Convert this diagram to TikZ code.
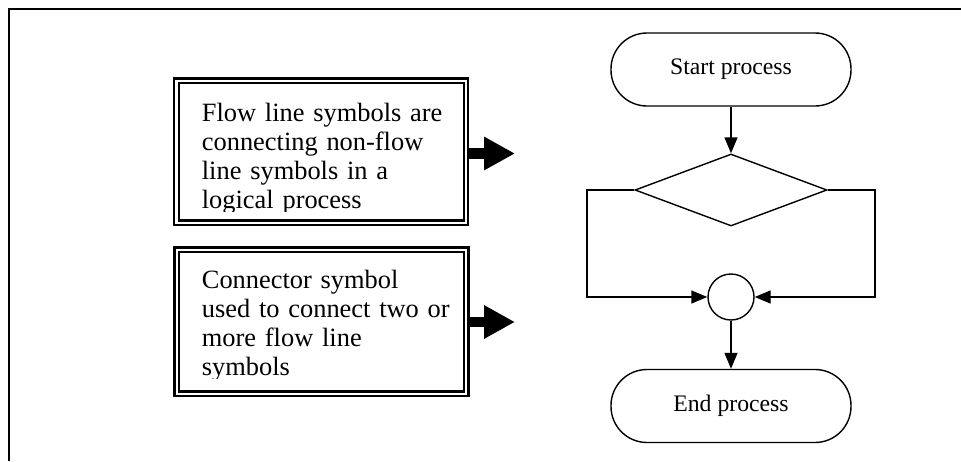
\documentclass[tikz,border=0pt]{standalone}
\usepackage{fontspec}
\setmainfont{Liberation Serif}
\usetikzlibrary{arrows.meta,shapes.geometric}
\begin{document}
\begin{tikzpicture}[x=1pt,y=-1pt,
  frame/.style={line width=2pt},
  notebox/.style={draw, double, line width=2.1pt, double distance=2.4pt, fill=white,
    minimum width=289.5pt, inner sep=0pt},
  notetext/.style={anchor=base west, inner sep=0pt, text width=270pt, align=left,
    font=\fontsize{26.4}{29}\selectfont},
  fat/.style={line width=10.5pt, -{Triangle[length=31pt 0 0, width=31.5pt 0 0]}},
  terminal/.style={draw, line width=1.4pt, rounded corners=36pt, minimum width=240pt,
    minimum height=73pt, inner sep=0pt, font=\fontsize{23.7}{26}\selectfont},
  decision/.style={draw, diamond, line width=1.4pt, minimum width=192pt, minimum height=72pt, inner sep=0pt},
  joint/.style={draw, circle, line width=1.4pt, minimum size=46pt, inner sep=0pt},
  flow/.style={line width=1.4pt, -{Triangle[length=16pt 0 0, width=13pt 0 0]}}
]
\useasboundingbox (0,0) rectangle (961,461);
% outer frame (only top and left edges visible)
\draw[frame] (9,461) -- (9,8.5) -- (961,8.5);

% explanation boxes
\node[notebox, minimum height=142pt] (box1) at (321.25,151.75) {};
\node[notebox, minimum height=144pt] (box2) at (321.5,321.75) {};
\begin{scope}
  \clip (180,84) rectangle (463,211.5);
  \node[notetext] (t1) at (201.7,121.9) {Flow line symbols are\\connecting non-flow\\line symbols in a\\logical process};
\end{scope}
\begin{scope}
  \clip (180,252) rectangle (463,378.3);
  \node[notetext] (t2) at (201.7,288.5) {Connector symbol\\used to connect two or\\more flow line\\symbols};
\end{scope}
\coordinate (tip1) at (515,153.5);
\coordinate (tip2) at (515,322);
\draw[fat] (box1.east |- tip1) -- (tip1);
\draw[fat] (box2.east |- tip2) -- (tip2);

% flowchart
\node[terminal] (start) at (731,69.5) {Start process};
\node[decision] (dec) at (731,190) {};
\node[joint] (con) at (731,297) {};
\node[terminal] (end) at (731,406) {End process};
\coordinate (lc) at (587,297);
\coordinate (rc) at (875,297);
\draw[flow] (start) -- (dec);
\draw[flow] (dec.west) -| (lc) -- (con.west);
\draw[flow] (dec.east) -| (rc) -- (con.east);
\draw[flow] (con) -- (end);
\end{tikzpicture}
\end{document}
